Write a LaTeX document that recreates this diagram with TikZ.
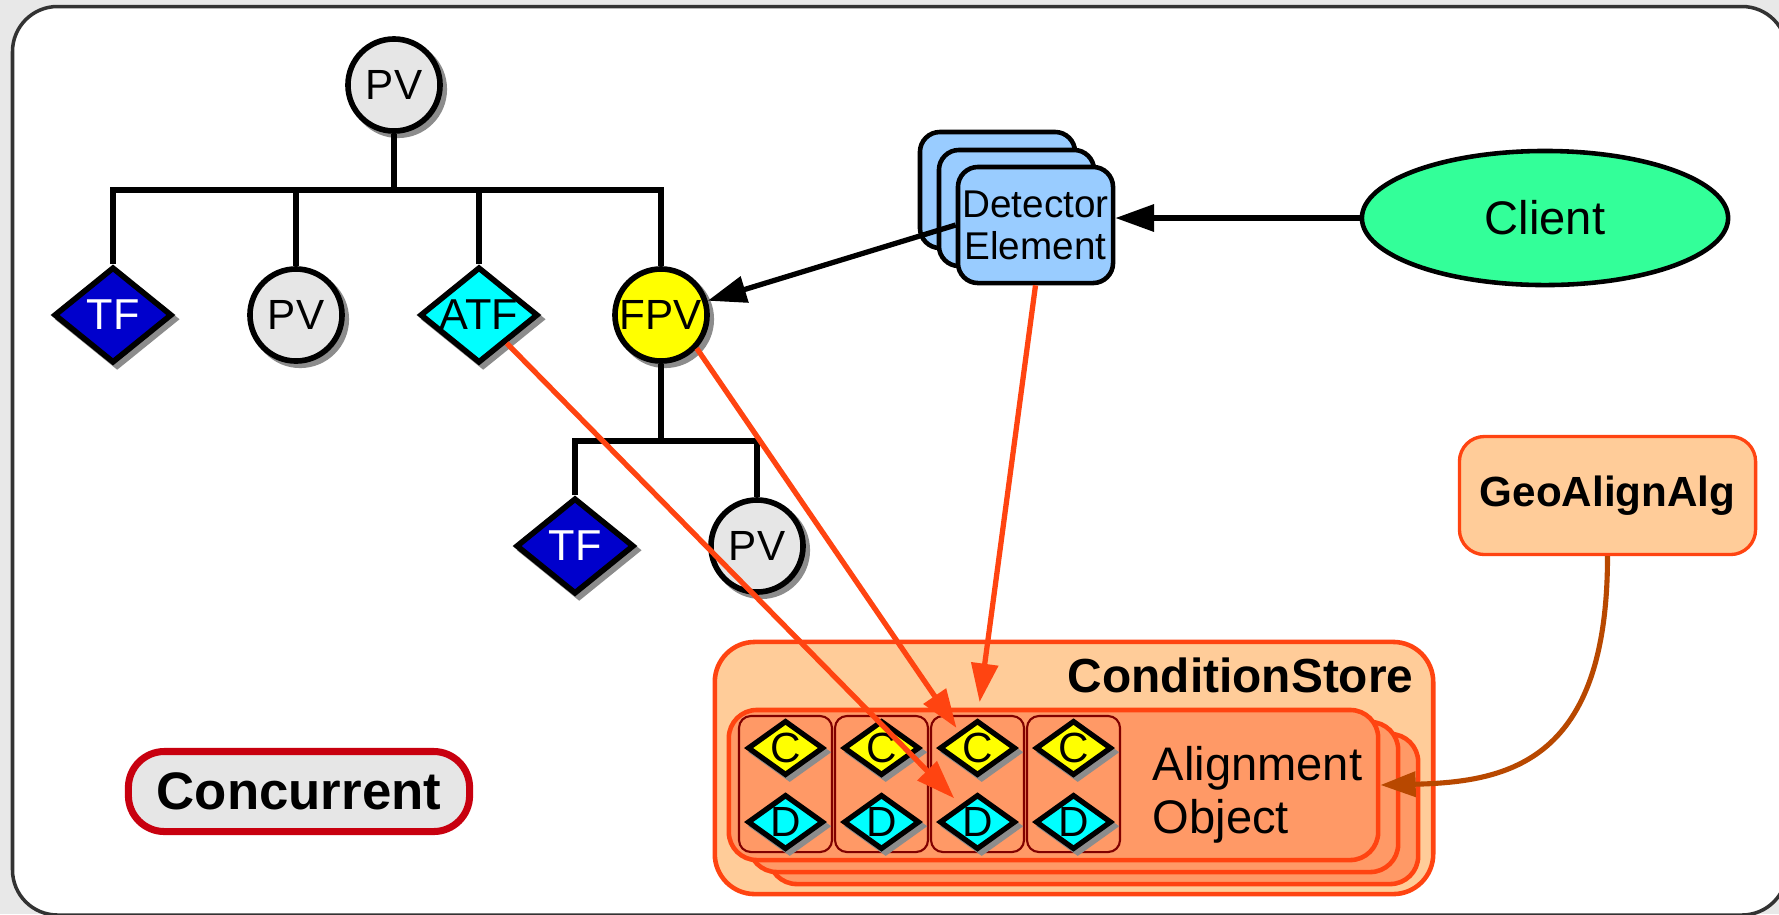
\documentclass[tikz,border=0pt]{standalone}
\usepackage{fontspec}
\setmainfont{Liberation Sans}
\usetikzlibrary{shapes.geometric,arrows.meta,calc}
\definecolor{bggray}{HTML}{E8E8E8}
\definecolor{framegray}{HTML}{333333}
\definecolor{nodegray}{HTML}{E6E6E6}
\definecolor{shadowgray}{HTML}{8C8C8C}
\definecolor{tfblue}{HTML}{0000CC}
\definecolor{atfcyan}{HTML}{00FFFF}
\definecolor{fpvyellow}{HTML}{FFFF00}
\definecolor{detblue}{HTML}{99CCFF}
\definecolor{clientgreen}{HTML}{33FF99}
\definecolor{orangeline}{HTML}{FF4411}
\definecolor{peach}{HTML}{FFCC99}
\definecolor{salmon}{HTML}{FF9966}
\definecolor{brownline}{HTML}{B84800}
\definecolor{colred}{HTML}{800000}
\definecolor{concred}{HTML}{C8000F}
\begin{document}
\begin{tikzpicture}[x=0.01cm,y=-0.01cm,
  shadowed/.style={preaction={draw=shadowgray,fill=shadowgray,transform canvas={shift={(1.2pt,-1.2pt)}}}},
  pvnode/.style={circle,draw=black,line width=1.6pt,fill=nodegray,minimum size=0.92cm,inner sep=0pt,shadowed,font=\fontsize{12pt}{14pt}\selectfont},
  fpvnode/.style={pvnode,fill=fpvyellow},
  bigdiamond/.style={diamond,aspect=1.23,draw=black,line width=1.6pt,minimum width=1.18cm,minimum height=0.96cm,inner sep=-2pt,shadowed,font=\fontsize{12.3pt}{14pt}\selectfont},
  tfnode/.style={bigdiamond,fill=tfblue,text=white},
  atfnode/.style={bigdiamond,fill=atfcyan},
  treeline/.style={draw=black,line width=1.6pt},
  detbox/.style={rectangle,rounded corners=0.2cm,draw=black,line width=1.3pt,fill=detblue,minimum width=1.55cm,minimum height=1.16cm,inner sep=0pt,align=center,font=\fontsize{11pt}{12pt}\selectfont},
  clientnode/.style={ellipse,draw=black,line width=1.3pt,fill=clientgreen,minimum width=3.66cm,minimum height=1.34cm,inner sep=0pt,font=\fontsize{13.4pt}{16pt}\selectfont},
  blackarrow/.style={draw=black,line width=1.5pt,-{Triangle[length=11pt,width=7.5pt]}},
  orarrow/.style={draw=orangeline,line width=1.5pt,-{Triangle[length=11pt,width=7.5pt]}},
  brownarrow/.style={draw=brownline,line width=1.45pt,-{Triangle[length=10pt,width=7pt]}},
  csbox/.style={rectangle,rounded corners=0.4cm,draw=orangeline,line width=1.3pt,fill=peach,minimum width=7.18cm,minimum height=2.52cm,inner sep=0pt},
  aobox/.style={rectangle,rounded corners=0.28cm,draw=orangeline,line width=1.3pt,fill=salmon,minimum width=6.49cm,minimum height=1.50cm,inner sep=0pt},
  colbox/.style={rectangle,rounded corners=0.12cm,draw=colred,line width=0.6pt,minimum width=0.93cm,minimum height=1.36cm,inner sep=0pt},
  smalldiamond/.style={diamond,aspect=1.38,draw=black,line width=1.5pt,minimum width=0.76cm,minimum height=0.55cm,inner sep=-2pt,shadowed,font=\fontsize{12pt}{13pt}\selectfont},
  cnode/.style={smalldiamond,fill=fpvyellow},
  dnode/.style={smalldiamond,fill=atfcyan},
  boldtitle/.style={inner sep=0pt,font=\fontsize{13.6pt}{16pt}\selectfont\bfseries},
  aotext/.style={inner sep=0pt,align=left,font=\fontsize{13.4pt}{15.1pt}\selectfont},
  geobox/.style={rectangle,rounded corners=0.25cm,draw=orangeline,line width=0.95pt,fill=peach,minimum width=2.96cm,minimum height=1.18cm,inner sep=0pt,font=\fontsize{12pt}{14pt}\selectfont\bfseries},
  concbox/.style={rectangle,rounded corners=0.36cm,draw=concred,line width=2pt,fill=nodegray,minimum width=3.41cm,minimum height=0.80cm,inner sep=0pt,font=\fontsize{15pt}{18pt}\selectfont\bfseries}
]
\fill[bggray] (0,0) rectangle (1779,914);
\useasboundingbox (0,0) rectangle (1779,914);
\begin{scope}
\clip (0,0) rectangle (1779,914);
\draw[framegray,line width=1pt,fill=white,rounded corners=0.45cm] (12.5,6.5) rectangle (1787,915);
\end{scope}

% tree nodes
\node[pvnode] (pv0) at (394,85) {PV};
\node[tfnode] (tf1) at (113,315) {TF};
\node[pvnode] (pv1) at (296,315) {PV};
\node[atfnode] (atf) at (479,315) {ATF};
\node[fpvnode] (fpv) at (661,315) {FPV};
\node[tfnode] (tf2) at (575,546) {TF};
\node[pvnode] (pv2) at (757,546) {PV};

% tree lines
\draw[treeline] (pv0.south) -- ++(0,56) coordinate (b0);
\draw[treeline] (tf1.north) |- (b0) -| (fpv.north);
\draw[treeline] (pv1.north) -- (pv1.north |- b0);
\draw[treeline] (atf.north) -- (atf.north |- b0);
\draw[treeline] (fpv.south) -- ++(0,77) coordinate (b1);
\draw[treeline] (tf2.north) |- (b1) -| (pv2.north);

% detector element stack
\node[detbox] (detback) at (997.5,190) {};
\node[detbox] (detmid) at (1016.5,208) {};
\node[detbox] (det) at (1035.5,225) {Detector\\Element};
\draw[blackarrow] (det.west) -- (fpv);

% client
\node[clientnode] (client) at (1545,218) {Client};
\draw[blackarrow] (client.west) -- (client.west -| det.east);

% condition store
\node[csbox] (cs) at (1074,768) {};
\node[boldtitle,anchor=base east] (cstitle) at (1414,692) {ConditionStore};
\node[aobox] (aoback) at (1093.5,809) {};
\node[aobox] (aomid) at (1073.5,797) {};
\node[aobox] (ao) at (1053.5,785) {};
\foreach \i/\x in {1/785.5,2/881.5,3/977.5,4/1073.5}{
  \node[colbox] (col\i) at (\x,784) {};
  \node[cnode] (c\i) at (\x,748) {C};
  \node[dnode] (d\i) at (\x,822) {D};
}
\node[aotext,anchor=north west] (aotxt) at (1152,746) {Alignment\\Object};

% GeoAlignAlg
\node[geobox] (geo) at (1607.5,495.5) {GeoAlignAlg};
\draw[brownarrow] (geo.south) .. controls ($(geo.south)+(0,204)$) and ($(ao.east)+(130,-3)$) .. (ao.east);

% Concurrent
\node[concbox] (conc) at (299,791.5) {Concurrent};

% orange arrows
\draw[orarrow,shorten >=4.5pt] (det.south) -- (c3.north);
\draw[orarrow] (fpv.-43) -- ($(c3)+(-21,-20)$);
\draw[orarrow,shorten >=2.5pt] (atf) -- (d3);
\end{tikzpicture}
\end{document}
